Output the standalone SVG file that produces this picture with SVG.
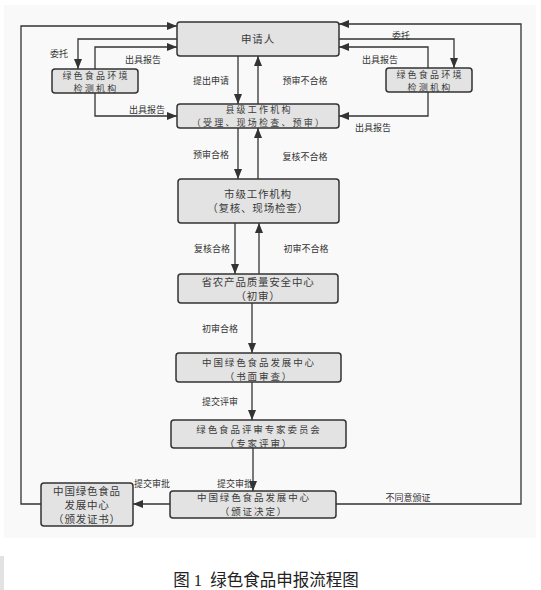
<svg xmlns="http://www.w3.org/2000/svg" width="541" height="590" viewBox="0 0 541 590">
<style>
.box{fill:#e3e3e3;stroke:#333;stroke-width:1.5}
.bt{font-family:"Noto Sans CJK SC",sans-serif;font-size:10.5px;fill:#3a3a3a;text-anchor:middle;letter-spacing:0.8px}
.st{font-size:9px;letter-spacing:2.2px}
.mt{font-size:9.5px;letter-spacing:1.9px}
.lb{font-family:"Noto Sans CJK SC",sans-serif;font-size:9px;fill:#333;text-anchor:middle}
.ln{fill:none;stroke:#333;stroke-width:1.3}
.cap{font-family:"Liberation Serif","Noto Sans CJK SC",serif;font-size:16.5px;fill:#222;text-anchor:middle}
</style>
<defs>
<marker id="ah" markerUnits="userSpaceOnUse" markerWidth="10" markerHeight="10" viewBox="0 0 10 10" refX="10" refY="5" orient="auto">
<path d="M0,1 L10,5 L0,9 Z" fill="#333"/>
</marker>
</defs>
<rect x="4" y="5" width="532" height="533" fill="#f9f9f9"/>
<rect x="0" y="556" width="4" height="34" fill="#e2e2e2"/>
<g id="connectors">
<path class="ln" d="M177,39 H78 V69" marker-end="url(#ah)"/>
<path class="ln" d="M95,69 V47 H177" marker-end="url(#ah)"/>
<path class="ln" d="M95,93 V116 H177" marker-end="url(#ah)"/>
<path class="ln" d="M339,39 H454 V68" marker-end="url(#ah)"/>
<path class="ln" d="M428,68 V47 H339" marker-end="url(#ah)"/>
<path class="ln" d="M428,92 V116 H339" marker-end="url(#ah)"/>
<path class="ln" d="M238,56 V104" marker-end="url(#ah)"/>
<path class="ln" d="M258,104 V56" marker-end="url(#ah)"/>
<path class="ln" d="M238,128 V179" marker-end="url(#ah)"/>
<path class="ln" d="M258,179 V128" marker-end="url(#ah)"/>
<path class="ln" d="M235,223 V274" marker-end="url(#ah)"/>
<path class="ln" d="M259,274 V223" marker-end="url(#ah)"/>
<path class="ln" d="M252,303 V353" marker-end="url(#ah)"/>
<path class="ln" d="M252,382 V420" marker-end="url(#ah)"/>
<path class="ln" d="M253,448 V491" marker-end="url(#ah)"/>
<path class="ln" d="M170,504 H133" marker-end="url(#ah)"/>
<path class="ln" d="M41,504 H21 V26 H177" marker-end="url(#ah)"/>
<path class="ln" d="M336,504 H521 V24 H339" marker-end="url(#ah)"/>
<text class="lb" x="59" y="57">委托</text>
<text class="lb" x="143" y="63">出具报告</text>
<text class="lb" x="147" y="113">出具报告</text>
<text class="lb" x="211" y="84">提出申请</text>
<text class="lb" x="211" y="158">预审合格</text>
<text class="lb" x="401" y="39">委托</text>
<text class="lb" x="380" y="63">出具报告</text>
<text class="lb" x="305" y="84">预审不合格</text>
<text class="lb" x="373" y="131">出具报告</text>
<text class="lb" x="305" y="160">复核不合格</text>
<text class="lb" x="212" y="252">复核合格</text>
<text class="lb" x="306" y="252">初审不合格</text>
<text class="lb" x="220" y="332">初审合格</text>
<text class="lb" x="220" y="405">提交评审</text>
<text class="lb" x="152" y="487">提交审批</text>
<text class="lb" x="235" y="486.5">提交审批</text>
<text class="lb" x="408" y="501">不同意颁证</text>
</g>
<g id="applicant"><rect class="box" x="177" y="22" width="162" height="34" rx="3"/><text class="bt" x="258" y="43">申请人</text></g>
<g id="env-left"><rect class="box" x="52" y="69" width="86" height="24" rx="3"/><text class="bt st" x="96" y="78.5">绿色食品环境</text><text class="bt st" x="96" y="91.5">检测机构</text></g>
<g id="env-right"><rect class="box" x="386" y="68" width="86" height="24" rx="3"/><text class="bt st" x="430" y="77.5">绿色食品环境</text><text class="bt st" x="430" y="90.5">检测机构</text></g>
<g id="county"><rect class="box" x="177" y="104" width="162" height="24" rx="3"/><text class="bt st" x="259" y="113">县级工作机构</text><text class="bt st" x="259" y="126">（受理、现场检查、预审）</text></g>
<g id="city"><rect class="box" x="178" y="179" width="161" height="44" rx="3"/><text class="bt" x="258" y="198">市级工作机构</text><text class="bt" x="258" y="212">（复核、现场检查）</text></g>
<g id="province"><rect class="box" x="178" y="274" width="160" height="29" rx="3"/><text class="bt" x="258" y="286">省农产品质量安全中心</text><text class="bt" x="258" y="300">（初审）</text></g>
<g id="center-review"><rect class="box" x="176" y="353" width="165" height="29" rx="3"/><text class="bt mt" x="259" y="366">中国绿色食品发展中心</text><text class="bt mt" x="259" y="380">（书面审查）</text></g>
<g id="expert"><rect class="box" x="171" y="420" width="175" height="28" rx="3"/><text class="bt mt" x="259" y="432.5">绿色食品评审专家委员会</text><text class="bt mt" x="259" y="446.5">（专家评审）</text></g>
<g id="decision"><rect class="box" x="170" y="491" width="166" height="27" rx="3"/><text class="bt mt" x="254" y="501">中国绿色食品发展中心</text><text class="bt mt" x="254" y="515">（颁证决定）</text></g>
<g id="certificate"><rect class="box" x="41" y="483" width="92" height="43" rx="3"/><text class="bt" x="87" y="495">中国绿色食品</text><text class="bt" x="87" y="509">发展中心</text><text class="bt" x="87" y="523">（颁发证书）</text></g>
<text class="cap" x="266" y="586">图&#160;1&#160;&#160;绿色食品申报流程图</text>
</svg>
